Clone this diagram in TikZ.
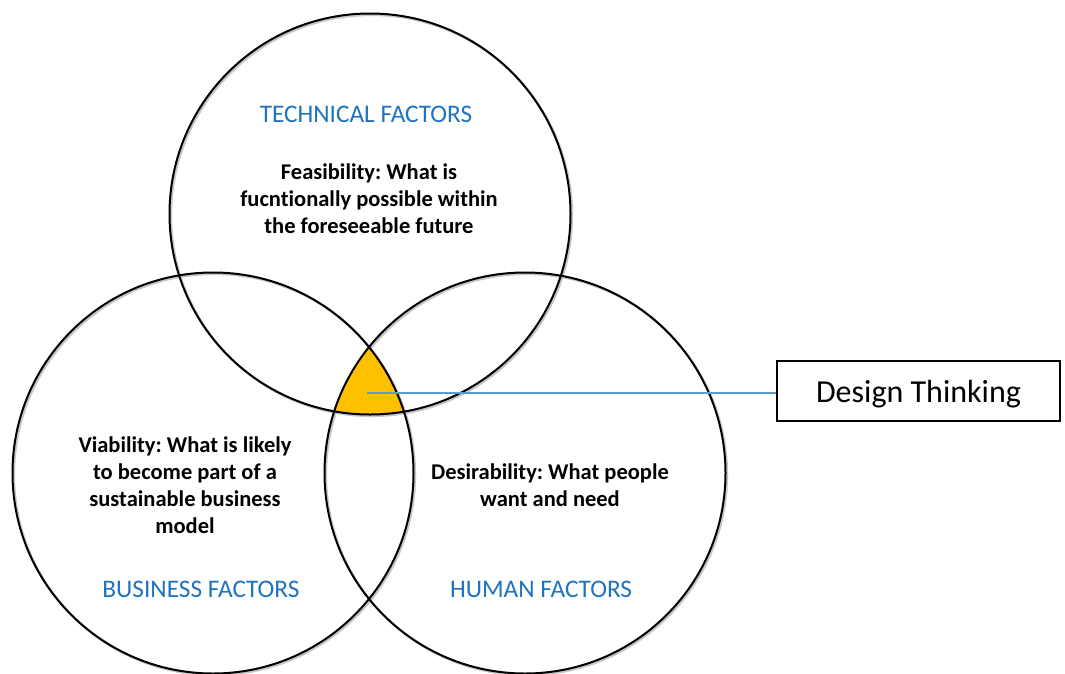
\documentclass[tikz,border=0pt]{standalone}
\usepackage{fontspec}
\setmainfont{Carlito}[Ligatures=NoCommon]
\frenchspacing
\begin{document}
\begin{tikzpicture}[x=1pt,y=-1pt,
  venn/.style={circle,draw=black,line width=2pt,minimum size=401pt,inner sep=0pt},
  shadowc/.style={circle,draw=black!22,line width=2.2pt,minimum size=401pt,inner sep=0pt},
  cat/.style={text=catblue,font=\fontsize{25.3}{30}\selectfont},
  desc/.style={font=\bfseries\fontsize{22.5}{27}\selectfont,align=center,text=black},
  dtbox/.style={draw=black,line width=2pt,minimum width=283pt,minimum height=60pt,font=\fontsize{32}{36}\selectfont,inner sep=0pt,text depth=0pt}]
\definecolor{catblue}{HTML}{1F73C1}
\definecolor{linkblue}{HTML}{5B9BD5}
\definecolor{dtyellow}{HTML}{FFC000}
\useasboundingbox (0,0) rectangle (1065,673);
\fill[white] (0,0) rectangle (1065,673);
% shadows
\node[shadowc] at (371.5,215.5) {};
\node[shadowc] at (214.5,474.5) {};
\node[shadowc] at (526.5,474.5) {};
% yellow intersection
\begin{scope}
  \clip (370,214) circle (200.5);
  \clip (213,473) circle (200.5);
  \fill[dtyellow] (525,473) circle (200.5);
\end{scope}
% circles
\node[venn] (tech) at (370,214) {};
\node[venn] (bus) at (213,473) {};
\node[venn] (hum) at (525,473) {};
% labels
\node[cat] (techlbl) at (366,114) {TECHNICAL FACTORS};
\node[desc] (feas) at (369,199) {Feasibility: What is\\fucntionally possible within\\the foreseeable future};
\node[desc] (viab) at (185,485.5) {Viability: What is likely\\to become part of a\\sustainable business\\model};
\node[cat] (buslbl) at (201,589) {BUSINESS FACTORS};
\node[desc] (desir) at (550,485.5) {Desirability: What people\\want and need};
\node[cat] (humlbl) at (541,589) {HUMAN FACTORS};
% design thinking
\node[dtbox] (dt) at (918.5,391) {Design Thinking};
\coordinate (dtpt) at (367,393);
\draw[linkblue,line width=1.3pt] (dtpt) -- (dt.west |- dtpt);
\end{tikzpicture}
\end{document}
